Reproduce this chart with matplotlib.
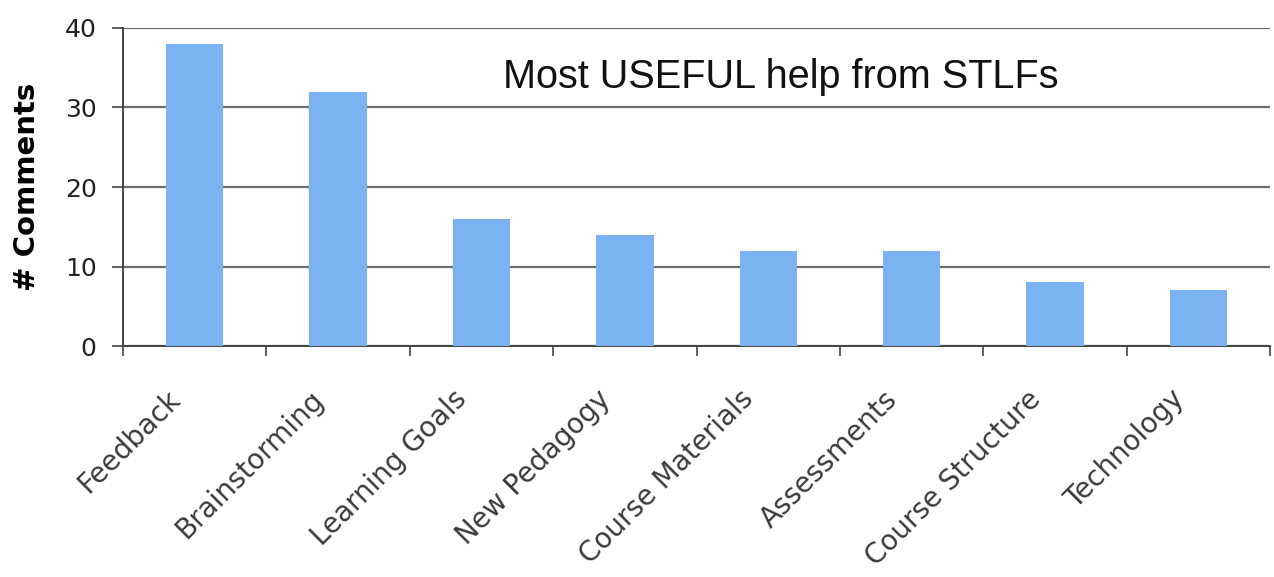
import matplotlib
matplotlib.use("Agg")
import matplotlib.pyplot as plt
import numpy as np

categories = ["Feedback", "Brainstorming", "Learning Goals", "New Pedagogy",
              "Course Materials", "Assessments", "Course Structure", "Technology"]
comments = [38, 32, 16, 14, 12, 12, 8, 7]
yticks = [0, 10, 20, 30, 40]
title_text = "Most USEFUL help from STLFs"

fig = plt.figure(figsize=(12.74, 5.77), dpi=100)
ax = fig.add_axes([0.0965, 0.4003, 0.9005, 0.5512])

x = np.arange(len(categories))
ax.bar(x, comments, width=0.4, color="#7AB2F2", zorder=3)

ax.set_xlim(-0.5, len(categories) - 0.5)
ax.set_ylim(0, 40)
ax.set_yticks(yticks)
ax.yaxis.grid(True, color="#6E6E6E", linewidth=1.6, zorder=0)
for s in ["top", "right"]:
    ax.spines[s].set_visible(False)
for s in ["left", "bottom"]:
    ax.spines[s].set_color("#444444")
    ax.spines[s].set_linewidth(1.4)

ax.set_xticks(np.arange(-0.5, len(categories) + 0.5, 1.0))
ax.set_xticklabels([])
ax.tick_params(axis="x", which="major", length=7, width=1.2, color="#444444", direction="out")
ax.set_xticks(x - 0.2, minor=True)
ax.set_xticklabels(categories, minor=True, rotation=45, ha="right", va="top",
                   rotation_mode="anchor", fontsize=20, color="#3A3A3A",
                   family="DejaVu Sans")
ax.tick_params(axis="x", which="minor", length=0, pad=28)

ax.tick_params(axis="y", length=8, width=1.2, color="#444444", labelsize=18,
               labelcolor="#222222", pad=11)
ax.set_ylabel("# Comments", fontsize=21, fontweight="bold", labelpad=17)

ax.text(0.5735, 0.845, title_text, transform=ax.transAxes, ha="center", va="center",
        fontsize=28.5, family=["Liberation Sans", "DejaVu Sans"],
        color="#111111")

fig.savefig("out.png", dpi=100)
